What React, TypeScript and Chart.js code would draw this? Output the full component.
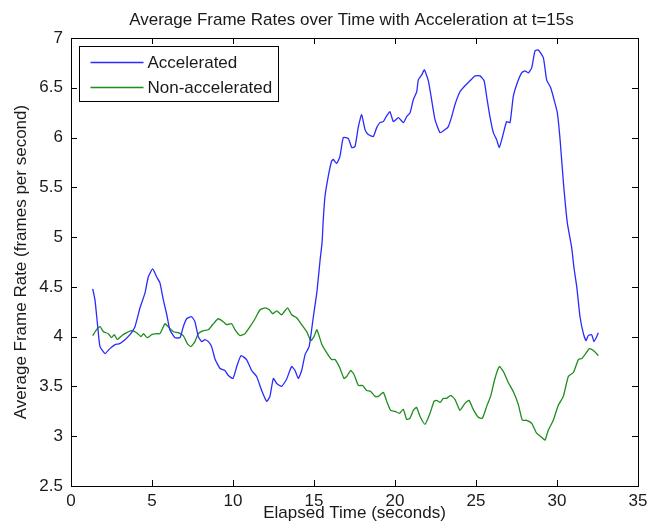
import React, { useEffect, useRef } from "react";
import { Chart, registerables } from "chart.js";

Chart.register(...registerables);

const titleText = "Average Frame Rates over Time with Acceleration at t=15s";
const xTitle = "Elapsed Time (seconds)";
const yTitle = "Average Frame Rate (frames per second)";
const seriesLabels = ["Accelerated", "Non-accelerated"];

const accelTime = [
  1.34, 1.48, 1.65, 1.79, 2.1, 2.4, 2.72, 3.0, 3.33, 3.64, 3.95, 4.26, 4.57, 4.77, 5.04, 5.29, 5.49, 5.7, 5.9, 6.1,
  6.42, 6.73, 6.93, 7.14, 7.45, 7.65, 7.86, 8.07, 8.27, 8.48, 8.68, 8.9, 9.2, 9.5, 9.71, 10.0, 10.23, 10.5, 10.84,
  11.15, 11.46, 11.77, 12.08, 12.28, 12.49, 12.7, 13.0, 13.3, 13.62, 13.83, 14.03, 14.24, 14.45, 14.7, 14.96, 15.18,
  15.37, 15.5, 15.57, 15.68, 15.88, 16.08, 16.19, 16.4, 16.6, 16.81, 17.12, 17.33, 17.53, 17.74, 17.94, 18.15, 18.35,
  18.66, 18.87, 19.07, 19.28, 19.49, 19.69, 19.9, 20.21, 20.52, 20.72, 20.93, 21.13, 21.34, 21.44, 21.65, 21.81,
  22.06, 22.26, 22.47, 22.78, 23.09, 23.29, 23.5, 23.7, 24.01, 24.32, 24.63, 24.94, 25.25, 25.5, 25.66, 25.86, 26.07,
  26.27, 26.44, 26.64, 26.89, 27.1, 27.3, 27.55, 27.82, 28.02, 28.23, 28.44, 28.64, 28.85, 29.16, 29.36, 29.61, 29.82,
  30.02, 30.19, 30.4, 30.64, 30.91, 31.05, 31.22, 31.42, 31.63, 31.79, 31.93, 32.14, 32.28, 32.45, 32.55,
];
const accelRate = [
  4.48, 4.37, 4.1, 3.9, 3.83, 3.88, 3.92, 3.93, 3.97, 4.02, 4.1, 4.29, 4.44, 4.6, 4.68, 4.6, 4.54, 4.37, 4.23, 4.07,
  3.99, 3.99, 4.1, 4.18, 4.2, 4.15, 4.0, 3.95, 3.97, 3.95, 3.9, 3.77, 3.68, 3.66, 3.61, 3.58, 3.7, 3.81, 3.77,
  3.66, 3.6, 3.46, 3.35, 3.4, 3.58, 3.53, 3.5, 3.57, 3.7, 3.66, 3.58, 3.66, 3.82, 3.9, 4.2, 4.45,
  4.76, 4.95, 5.17, 5.41, 5.61, 5.76, 5.78, 5.74, 5.81, 6.0, 5.99, 5.9, 5.91, 6.11, 6.23, 6.08, 6.03,
  6.01, 6.1, 6.15, 6.16, 6.22, 6.26, 6.16, 6.2, 6.15, 6.21, 6.25, 6.38, 6.46, 6.58, 6.63, 6.68,
  6.57, 6.38, 6.18, 6.05, 6.08, 6.11, 6.21, 6.33, 6.46, 6.52, 6.57, 6.62, 6.62, 6.57, 6.41, 6.21, 6.05,
  5.98, 5.9, 6.01, 6.16, 6.15, 6.41, 6.55, 6.65, 6.67, 6.65, 6.7, 6.87, 6.88, 6.8, 6.58, 6.5, 6.38,
  6.25, 5.98, 5.54, 5.14, 4.89, 4.69, 4.5, 4.2, 4.03, 3.96, 4.01, 4.02, 3.95, 4.0, 4.04,
];

const baseTime = [
  1.34, 1.58, 1.79, 2.0, 2.3, 2.5, 2.67, 2.86, 3.13, 3.44, 3.74, 4.05, 4.32, 4.47, 4.71, 4.98, 5.29, 5.49, 5.8, 6.0,
  6.32, 6.63, 6.93, 7.18, 7.4, 7.65, 7.86, 8.17, 8.48, 8.79, 9.09, 9.4, 9.6, 9.92, 10.12, 10.43, 10.74, 11.05, 11.36,
  11.67, 11.98, 12.24, 12.45, 12.7, 13.0, 13.37, 13.62, 13.93, 14.24, 14.55, 14.8, 15.0, 15.18, 15.47, 15.78, 16.09,
  16.3, 16.61, 16.85, 17.02, 17.26, 17.47, 17.74, 18.0, 18.25, 18.5, 18.77, 18.97, 19.28, 19.49, 19.73, 20.0, 20.27,
  20.51, 20.72, 20.92, 21.13, 21.33, 21.54, 21.85, 22.16, 22.41, 22.57, 22.78, 22.98, 23.19, 23.44, 23.7, 24.01,
  24.32, 24.57, 24.83, 25.14, 25.39, 25.66, 25.9, 26.17, 26.44, 26.69, 26.99, 27.3, 27.61, 27.86, 28.13, 28.44,
  28.74, 29.05, 29.26, 29.46, 29.77, 30.08, 30.39, 30.7, 31.01, 31.32, 31.52, 31.73, 32.0, 32.25, 32.55,
];
const baseRate = [
  4.01, 4.07, 4.1, 4.05, 4.03, 3.99, 4.02, 3.97, 4.01, 4.04, 4.06, 4.04, 4.0, 4.03, 3.99, 4.02, 4.03, 4.03, 4.13, 4.1,
  4.05, 4.04, 4.01, 3.93, 3.9, 3.95, 4.03, 4.06, 4.07, 4.13, 4.18, 4.15, 4.12, 4.13, 4.07, 4.01, 4.03, 4.1, 4.18,
  4.27, 4.29, 4.27, 4.23, 4.26, 4.22, 4.29, 4.22, 4.19, 4.12, 4.05, 3.96, 4.0, 4.07, 3.93, 3.84, 3.77,
  3.77, 3.68, 3.58, 3.6, 3.66, 3.62, 3.51, 3.51, 3.46, 3.45, 3.4, 3.4, 3.44, 3.35, 3.26, 3.25, 3.23,
  3.27, 3.17, 3.18, 3.26, 3.29, 3.2, 3.12, 3.23, 3.35, 3.36, 3.34, 3.38, 3.38, 3.41, 3.37, 3.26,
  3.33, 3.36, 3.27, 3.19, 3.18, 3.3, 3.4, 3.58, 3.7, 3.65, 3.54, 3.45, 3.32, 3.16, 3.16, 3.13,
  3.03, 2.99, 2.96, 3.06, 3.16, 3.31, 3.4, 3.6, 3.64, 3.77, 3.78, 3.82, 3.88, 3.86, 3.81,
];

const FONT = '"Liberation Sans", Arial, Helvetica, sans-serif';
const FS = 17;
const TEXT = "#1a1a1a";

const matlabFrame = {
  id: "matlabFrame",
  afterDatasetsDraw(chart: any) {
    const { ctx, chartArea: a, scales } = chart;
    ctx.save();
    ctx.strokeStyle = "#000";
    ctx.lineWidth = 1;
    ctx.strokeRect(Math.round(a.left) + 0.5, Math.round(a.top) + 0.5, Math.round(a.right - a.left), Math.round(a.bottom - a.top));
    const tl = 6;
    ctx.beginPath();
    for (const t of scales.x.ticks) {
      const px = Math.round(scales.x.getPixelForValue(t.value)) + 0.5;
      ctx.moveTo(px, a.bottom);
      ctx.lineTo(px, a.bottom - tl);
      ctx.moveTo(px, a.top);
      ctx.lineTo(px, a.top + tl);
    }
    for (const t of scales.y.ticks) {
      const py = Math.round(scales.y.getPixelForValue(t.value)) + 0.5;
      ctx.moveTo(a.left, py);
      ctx.lineTo(a.left + tl, py);
      ctx.moveTo(a.right, py);
      ctx.lineTo(a.right - tl, py);
    }
    ctx.stroke();

    // legend
    const ds = chart.data.datasets;
    ctx.font = `${FS}px ${FONT}`;
    let maxW = 0;
    for (const d of ds) maxW = Math.max(maxW, ctx.measureText(d.label).width);
    const bx = Math.round(a.left) + 8.5;
    const by = Math.round(a.top) + 8.5;
    const lineX1 = bx + 11;
    const lineX2 = bx + 64;
    const textX = bx + 68;
    const bw = Math.round(68 + maxW + 6);
    const rowH = 25;
    const bh = 55;
    ctx.fillStyle = "#fff";
    ctx.fillRect(bx, by, bw, bh);
    ctx.strokeStyle = "#000";
    ctx.lineWidth = 1;
    ctx.strokeRect(bx, by, bw, bh);
    ds.forEach((d: any, i: number) => {
      const y = by + 16 + i * rowH;
      ctx.strokeStyle = d.borderColor;
      ctx.lineWidth = 1.3;
      ctx.beginPath();
      ctx.moveTo(lineX1, y);
      ctx.lineTo(lineX2, y);
      ctx.stroke();
      ctx.fillStyle = TEXT;
      ctx.textAlign = "left";
      ctx.textBaseline = "middle";
      ctx.fillText(d.label, textX, y + 0.5);
    });

    // title
    ctx.fillStyle = TEXT;
    ctx.textAlign = "center";
    ctx.textBaseline = "alphabetic";
    ctx.font = `${FS}px ${FONT}`;
    ctx.fillText(titleText, (a.left + a.right) / 2 - 3, 25);
    ctx.restore();
  },
};

const fmt = (v: any) => String(Number(v));

export default function App() {
  const ref = useRef<HTMLCanvasElement>(null);
  useEffect(() => {
    if (!ref.current) return;
    const accel = accelTime.map((t, i) => ({ x: t, y: accelRate[i] }));
    const base = baseTime.map((t, i) => ({ x: t, y: baseRate[i] }));
    const chart = new Chart(ref.current, {
      type: "line",
      data: {
        datasets: [
          { label: seriesLabels[0], data: accel, borderColor: "#2a2aff", borderWidth: 1.3, pointRadius: 0, tension: 0.15, fill: false },
          { label: seriesLabels[1], data: base, borderColor: "#1e8c1e", borderWidth: 1.3, pointRadius: 0, tension: 0.15, fill: false },
        ],
      },
      options: {
        animation: false,
        responsive: false,
        devicePixelRatio: 1,
        layout: { padding: { top: 38, right: 19, left: 0, bottom: 0 } },
        plugins: { legend: { display: false }, title: { display: false }, tooltip: { enabled: false } },
        scales: {
          x: {
            type: "linear",
            min: 0,
            max: 35,
            grid: { display: false, drawTicks: false },
            border: { display: false },
            ticks: { stepSize: 5, padding: 5, color: TEXT, font: { family: FONT, size: FS }, maxRotation: 0, callback: fmt },
            title: { display: true, text: xTitle, color: TEXT, font: { family: FONT, size: FS }, padding: { top: 0, bottom: 8 } },
            afterFit: (s: any) => {
              s.height = 46;
            },
          },
          y: {
            type: "linear",
            min: 2.5,
            max: 7,
            grid: { display: false, drawTicks: false },
            border: { display: false },
            ticks: { stepSize: 0.5, padding: 8, color: TEXT, font: { family: FONT, size: FS }, callback: fmt },
            title: { display: true, text: yTitle, color: TEXT, font: { family: FONT, size: FS }, padding: { top: 11, bottom: 0 } },
            afterFit: (s: any) => {
              s.width = 71;
            },
          },
        },
      },
      plugins: [matlabFrame],
    });
    return () => chart.destroy();
  }, []);
  return (
    <div style={{ position: "fixed", left: 0, top: 0, width: 657, height: 532, background: "#fff" }}>
      <canvas ref={ref} width={657} height={532} style={{ width: 657, height: 532 }} />
    </div>
  );
}
